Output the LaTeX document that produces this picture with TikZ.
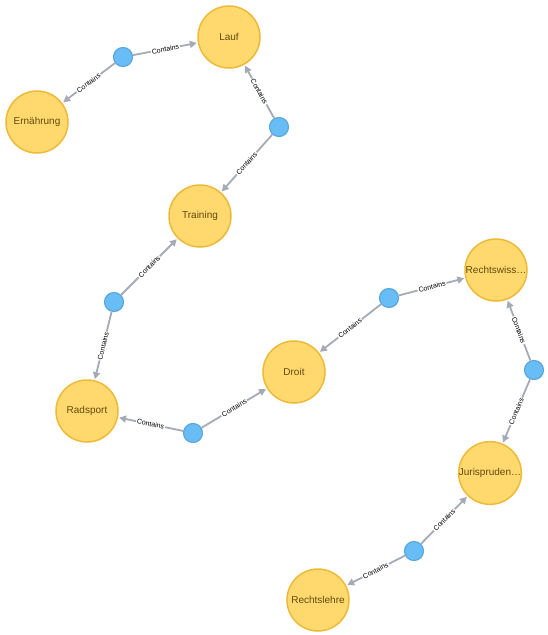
\documentclass[tikz,border=0pt]{standalone}
\usepackage{fontspec}
\setmainfont{Liberation Sans}
\usetikzlibrary{arrows.meta}
\definecolor{topiccolor}{RGB}{255, 216, 110}
\definecolor{topicborder}{RGB}{237, 186, 57}
\definecolor{topictext}{RGB}{96, 74, 14}
\definecolor{linkcolor}{RGB}{104, 189, 246}
\definecolor{linkborder}{RGB}{92, 168, 219}
\definecolor{arrowcolor}{RGB}{165, 171, 182}
\tikzset{
topicnode/.style={
  circle,
  draw=topicborder,
  fill=topiccolor,
  line width=1.5pt,
  minimum size=62pt,
  inner sep=0pt,
  font=\fontsize{10}{12}\selectfont,
  text=topictext
},
linknode/.style={
  circle,
  draw=linkborder,
  fill=linkcolor,
  line width=1.2pt,
  minimum size=19pt,
  inner sep=0pt
},
arrow/.style={
  -{Triangle[length=7pt,width=7pt]},
  line width=1.8pt,
  draw=arrowcolor,
  shorten >=1pt
},
edgelabel/.style={
  sloped,
  midway,
  fill=white,
  inner sep=1pt,
  font=\fontsize{7}{8}\selectfont,
  text=black
}
}

\begin{document}
\begin{tikzpicture}[x=1pt, y=-1pt]
    \useasboundingbox (0,0) rectangle (548,635);

    % Topics
    \node[topicnode] (lauf) at (229,37) {Lauf};
    \node[topicnode] (ernaehrung) at (37,122) {Ernährung};
    \node[topicnode] (training) at (200,216) {Training};
    \node[topicnode] (radsport) at (87,411) {Radsport};
    \node[topicnode] (droit) at (294,372) {Droit};
    \node[topicnode] (rechtswiss) at (496,270) {Rechtswiss…};
    \node[topicnode] (jurisprud) at (490,473) {Jurispruden…};
    \node[topicnode] (rechtslehre) at (318,600) {Rechtslehre};

    % Links between them
    \node[linknode] (link1) at (123,57) {};
    \node[linknode] (link2) at (279,127) {};
    \node[linknode] (link3) at (114,302) {};
    \node[linknode] (link4) at (193,433) {};
    \node[linknode] (link5) at (389,298) {};
    \node[linknode] (link6) at (534,370) {};
    \node[linknode] (link7) at (414,551) {};

    % Contains edges
    \draw[arrow] (link1) -- (lauf) node[edgelabel] {Contains};
    \draw[arrow] (link1) -- (ernaehrung) node[edgelabel] {Contains};
    \draw[arrow] (link2) -- (lauf) node[edgelabel] {Contains};
    \draw[arrow] (link2) -- (training) node[edgelabel] {Contains};
    \draw[arrow] (link3) -- (training) node[edgelabel] {Contains};
    \draw[arrow] (link3) -- (radsport) node[edgelabel] {Contains};
    \draw[arrow] (link4) -- (radsport) node[edgelabel] {Contains};
    \draw[arrow] (link4) -- (droit) node[edgelabel] {Contains};
    \draw[arrow] (link5) -- (droit) node[edgelabel] {Contains};
    \draw[arrow] (link5) -- (rechtswiss) node[edgelabel] {Contains};
    \draw[arrow] (link6) -- (rechtswiss) node[edgelabel] {Contains};
    \draw[arrow] (link6) -- (jurisprud) node[edgelabel] {Contains};
    \draw[arrow] (link7) -- (jurisprud) node[edgelabel] {Contains};
    \draw[arrow] (link7) -- (rechtslehre) node[edgelabel] {Contains};

\end{tikzpicture}
\end{document}
